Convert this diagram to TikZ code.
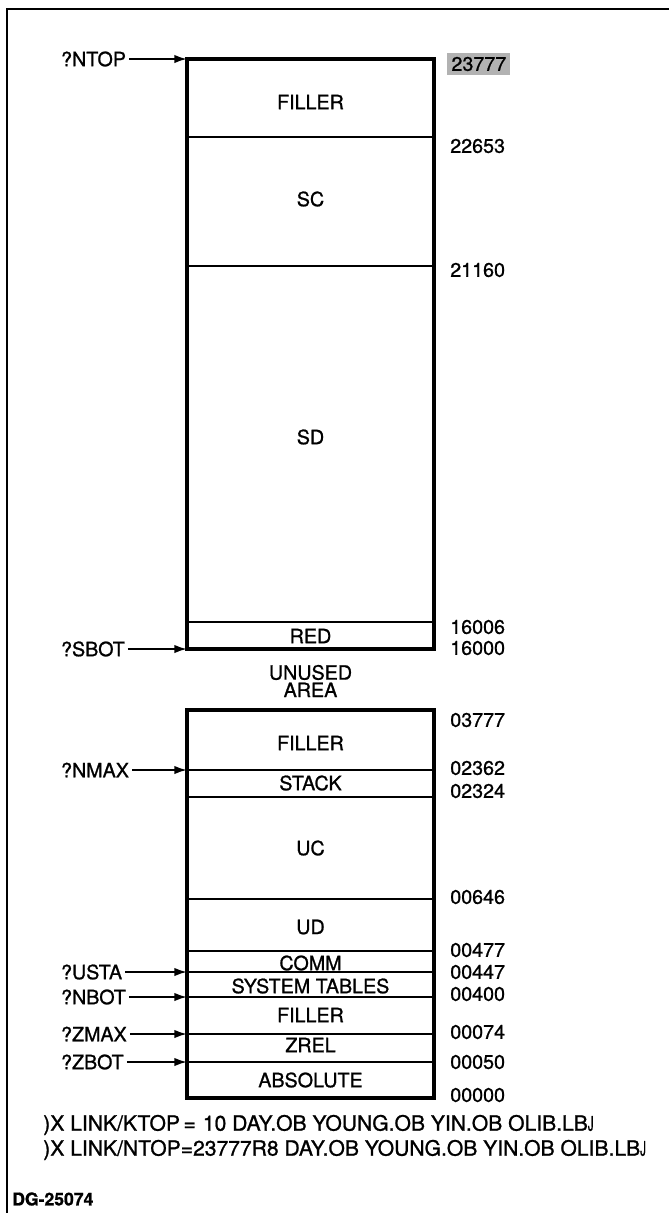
\documentclass[tikz,border=0pt]{standalone}
\usepackage{fontspec}
\usepackage{graphicx}
\setmainfont{TeX Gyre Heros}[FakeBold=1]
\usetikzlibrary{arrows.meta}
\newcommand{\crsym}{\scalebox{0.55}[0.95]{J}}
\tikzset{
  memframe/.style={black, line width=2.8pt},
  memline/.style={black, line width=1.4pt},
  frameline/.style={black, line width=1.4pt},
  pointer/.style={black, -{Latex[length=9pt,width=6pt]}, line width=1.3pt},
  region/.style={font=\fontsize{14}{12.4}\selectfont, inner sep=0pt, align=center},
  addr/.style={font=\fontsize{14}{16}\selectfont, anchor=west, inner sep=0pt},
  symlabel/.style={font=\fontsize{14}{16}\selectfont, anchor=west, inner sep=2pt},
  cmdline/.style={font=\fontsize{15}{17}\selectfont, anchor=west, inner sep=0pt},
  tagnode/.style={font=\bfseries\fontsize{12.5}{13}\selectfont, anchor=west, inner sep=0pt}
}
\begin{document}
\begin{tikzpicture}[x=0.025cm, y=-0.025cm]
  \useasboundingbox (0,0) rectangle (669,1213);
  \draw[frameline] (7,1213) -- (7,9) -- (669,9);

  % upper part of memory
  \draw[memframe] (187,59) rectangle (434,649);
  \foreach \y in {137,266,622} \draw[memline] (187,\y) -- (434,\y);
  \node[region] (upfiller) at (310.5,102) {FILLER};
  \node[region] (sc) at (310.5,199) {SC};
  \node[region] (sd) at (310.5,437) {SD};
  \node[region] (red) at (310.5,636) {RED};
  \node[region] (unused) at (310.5,681) {UNUSED\\AREA};

  % lower part of memory
  \draw[memframe] (187,710) rectangle (434,1098);
  \foreach \y in {770,797,899,951,972,997,1034,1062} \draw[memline] (187,\y) -- (434,\y);
  \node[region] (lowfiller) at (310.5,743) {FILLER};
  \node[region] (stack) at (310.5,783) {STACK};
  \node[region] (uc) at (310.5,848) {UC};
  \node[region] (ud) at (310.5,927) {UD};
  \node[region] (comm) at (310.5,963) {COMM};
  \node[region] (systab) at (310.5,986) {SYSTEM TABLES};
  \node[region] (zfiller) at (310.5,1015) {FILLER};
  \node[region] (zrel) at (310.5,1045) {ZREL};
  \node[region] (absolute) at (310.5,1080) {ABSOLUTE};

  % addresses
  \node[addr, fill=black!30, inner sep=3pt] (a23777) at (447,64) {23777};
  \foreach \y/\txt in {146/22653,270/21160,627/16006,648/16000,720/03777,768/02362,791/02324,
    897/00646,950/00477,972/00447,994/00400,1032/00074,1062/00050,1095/00000}
    \node[addr] (a\txt) at (450,\y) {\txt};

  % pointers
  \foreach \nm/\txt/\y in {ntop/?NTOP/59,sbot/?SBOT/649,nmax/?NMAX/770,usta/?USTA/972,
    nbot/?NBOT/997,zmax/?ZMAX/1034,zbot/?ZBOT/1062}{
    \node[symlabel] (\nm) at (58,\y) {\txt};
    \coordinate (\nm pt) at (187,\y);
    \draw[pointer] (\nm) -- (\nm pt);
  }

  \node[cmdline] (ktopcmd) at (43,1125) {)X LINK/KTOP\,=\,\,10 DAY.OB YOUNG.OB YIN.OB OLIB.LB\crsym};
  \node[cmdline] (ntopcmd) at (43,1150) {)X LINK/NTOP=23777R8 DAY.OB YOUNG.OB YIN.OB OLIB.LB\crsym};
  \node[tagnode] (dgtag) at (12,1199) {DG-25074};
\end{tikzpicture}
\end{document}
